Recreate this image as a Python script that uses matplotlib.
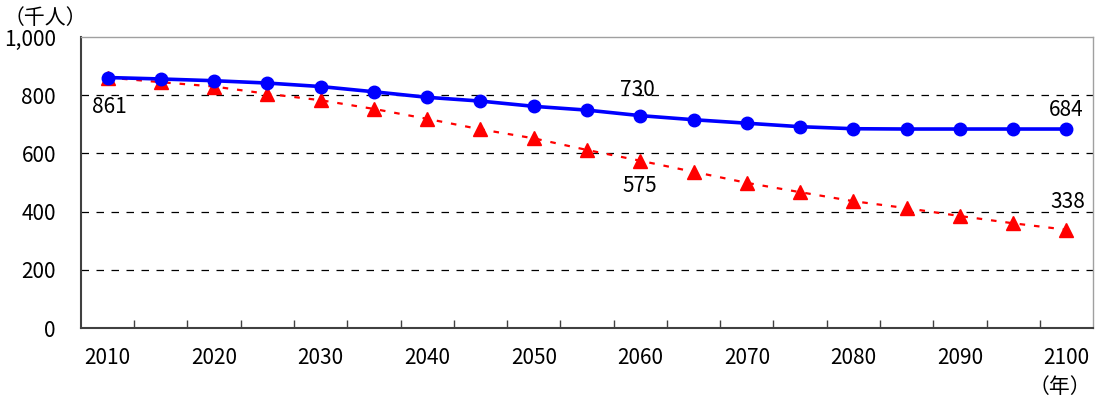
import numpy as np
import matplotlib.pyplot as plt
from matplotlib.ticker import FuncFormatter

plt.rcParams['font.family'] = ['Noto Sans CJK JP', 'DejaVu Sans']

# data (thousand people), every 5 years
years = [2010, 2015, 2020, 2025, 2030, 2035, 2040, 2045, 2050, 2055,
         2060, 2065, 2070, 2075, 2080, 2085, 2090, 2095, 2100]
blue_vals = [861, 856, 850, 842, 830, 812, 793, 780, 762, 749,
             730, 716, 704, 692, 685, 684, 684, 684, 684]
red_vals = [861, 845, 830, 805, 783, 753, 719, 683, 652, 612,
            575, 537, 499, 467, 436, 412, 385, 360, 338]

FS = 15
x = np.arange(len(years))

fig = plt.figure(figsize=(10.97, 4.03), dpi=100)
ax = fig.add_axes([0.0738, 0.186, 0.9226, 0.722])

ax.plot(x, red_vals, color='#ff0000', linestyle=(0, (2.5, 4)), linewidth=1.6,
        marker='^', markersize=10, zorder=3)
ax.plot(x, blue_vals, color='#0000ff', linewidth=2.6,
        marker='o', markersize=9, zorder=4)

ax.set_xlim(-0.5, len(years) - 0.5)
ax.set_ylim(0, 1000)
ax.set_yticks(range(0, 1001, 200))
ax.yaxis.set_major_formatter(FuncFormatter(lambda v, p: f'{int(v):,}'))
ax.tick_params(axis='y', length=0, pad=18, labelsize=FS)

ax.set_xticks(x[::2])
ax.set_xticklabels([str(y) for y in years[::2]])
ax.set_xticks(np.arange(0.5, len(years) - 1, 1.0), minor=True)
ax.tick_params(axis='x', which='major', length=0, pad=14, labelsize=FS)
ax.tick_params(axis='x', which='minor', direction='in', length=6,
               width=1, color='#404040')

for v in range(200, 1000, 200):
    ax.axhline(v, color='black', linestyle=(0, (6, 6)), linewidth=0.9, zorder=1)

for side in ['top', 'right']:
    ax.spines[side].set_color('#a0a0a0')
    ax.spines[side].set_linewidth(1)
for side in ['left', 'bottom']:
    ax.spines[side].set_color('#404040')
    ax.spines[side].set_linewidth(1.5)

# value labels
ax.text(x[0] - 0.3, blue_vals[0] - 102, str(blue_vals[0]), fontsize=FS,
        ha='left', va='center')
ax.text(x[10] - 0.05, blue_vals[10] + 88, str(blue_vals[10]), fontsize=FS,
        ha='center', va='center')
ax.text(x[10], red_vals[10] - 87, str(red_vals[10]), fontsize=FS,
        ha='center', va='center')
ax.text(x[-1], blue_vals[-1] + 65, str(blue_vals[-1]), fontsize=FS,
        ha='center', va='center')
ax.text(x[-1] + 0.02, red_vals[-1] + 95, str(red_vals[-1]), fontsize=FS,
        ha='center', va='center')

fig.text(0.003, 0.955, '（千人）', fontsize=FS, ha='left', va='center')
fig.text(0.995, 0.04, '（年）', fontsize=FS, ha='right', va='center')

fig.savefig('out.png', dpi=100)
